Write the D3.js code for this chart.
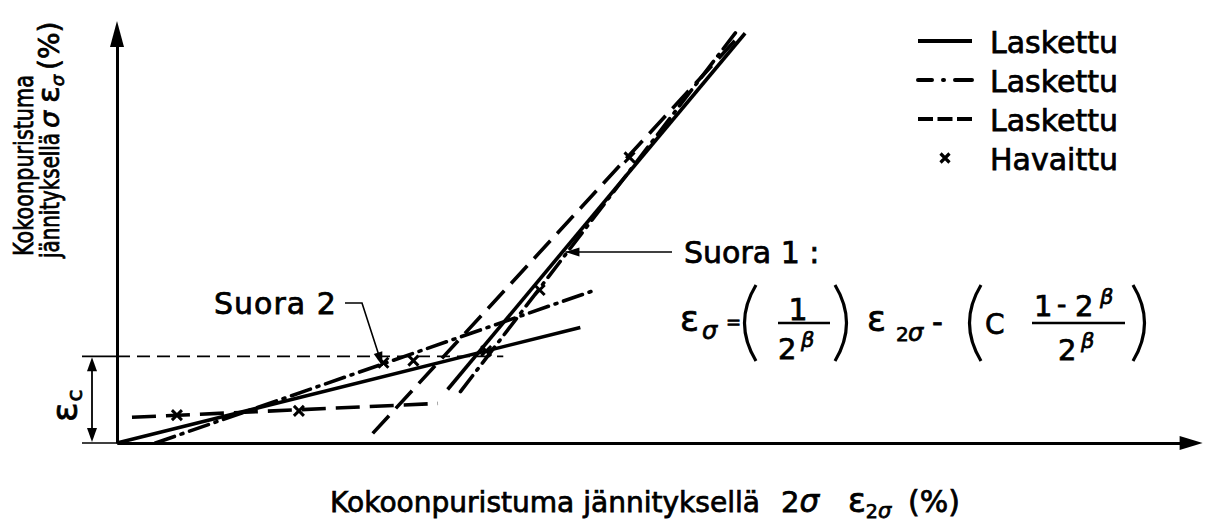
<!DOCTYPE html>
<html>
<head>
<meta charset="utf-8">
<script src="https://cdn.jsdelivr.net/npm/d3@7"></script>
<style>
  html, body { margin: 0; padding: 0; background: #fff; }
  svg { display: block; }
  text { font-family: "DejaVu Sans", sans-serif; fill: #000; stroke: #000; stroke-width: 0.75px; }
</style>
</head>
<body>
<svg id="chart" width="1211" height="531"></svg>
<script>
// Each calculated curve is made of two straight parts:
// "Suora 2" (the flat part) and "Suora 1" (the steep part).
const solidSuora2   = [[0.00, 0.00], [4.33, 1.08]];
const solidSuora1   = [[3.09, 0.50], [5.87, 3.83]];
const dashDotSuora2 = [[0.36, 0.00], [4.47, 1.43]];
const dashDotSuora1 = [[3.21, 0.48], [5.80, 3.86]];
const dashedSuora2  = [[0.14, 0.24], [3.00, 0.37]];
const dashedSuora1  = [[2.39, 0.09], [5.83, 3.82]];

// Observed points (Havaittu)
const observedX = [0.56, 1.70, 2.49, 2.77, 3.45, 3.95, 4.79];
const observedY = [0.26, 0.30, 0.75, 0.77, 0.86, 1.43, 2.67];

// Breakpoint strain level ε_c and the extent of its guide line
const epsC = 0.81;
const epsCGuideEnd = 3.61;

const legendLabels = ["Laskettu", "Laskettu", "Laskettu", "Havaittu"];
const legendStyles = ["solid", "dashdot", "dashed", "marker"];

const svg = d3.select("#chart");

const x = d3.scaleLinear().domain([0, 9.95]).range([117, 1181.65]);
const y = d3.scaleLinear().domain([0, 3.72]).range([443, 45]);

const dash = {
  solid: null,
  dashdot: "20,7,2,7",
  dashed: "24,10"
};

// ---- axes (no ticks, arrow-headed) ----
const gx = svg.append("g")
  .attr("transform", `translate(0,${y(0)})`)
  .call(d3.axisBottom(x).tickValues([]).tickSizeOuter(0));
const gy = svg.append("g")
  .attr("transform", `translate(${x(0)},0)`)
  .call(d3.axisLeft(y).tickValues([]).tickSizeOuter(0));
[gx, gy].forEach(g => g.select(".domain")
  .attr("stroke", "#000").attr("stroke-width", 3).attr("fill", "none"));

const xEnd = x.range()[1], yTop = y.range()[1];
svg.append("path")
  .attr("d", `M${xEnd - 2},${y(0) - 7}L${xEnd + 21},${y(0)}L${xEnd - 2},${y(0) + 7}Z`)
  .attr("fill", "#000");
svg.append("path")
  .attr("d", `M${x(0) - 7},${yTop + 2}L${x(0)},${yTop - 24}L${x(0) + 7},${yTop + 2}Z`)
  .attr("fill", "#000");

// ---- ε_c guide ----
svg.append("line")
  .attr("x1", x(0)).attr("x2", x(epsCGuideEnd))
  .attr("y1", y(epsC)).attr("y2", y(epsC))
  .attr("stroke", "#000").attr("stroke-width", 1.6).attr("stroke-dasharray", "13,7");
const dimX = x(0) - 25;
[[y(epsC)], [y(0)]].forEach(([yy]) => {
  svg.append("line").attr("x1", dimX - 10).attr("x2", x(0))
    .attr("y1", yy).attr("y2", yy).attr("stroke", "#000").attr("stroke-width", 1.6);
});
svg.append("line").attr("x1", dimX).attr("x2", dimX)
  .attr("y1", y(epsC) + 4).attr("y2", y(0) - 4)
  .attr("stroke", "#000").attr("stroke-width", 1.8);
svg.append("path")
  .attr("d", `M${dimX - 5},${y(epsC) + 15}L${dimX},${y(epsC) + 1}L${dimX + 5},${y(epsC) + 15}Z`)
  .attr("fill", "#000");
svg.append("path")
  .attr("d", `M${dimX - 5},${y(0) - 15}L${dimX},${y(0) - 1}L${dimX + 5},${y(0) - 15}Z`)
  .attr("fill", "#000");
const epsLabel = svg.append("text")
  .attr("transform", `translate(${dimX - 15},${y(0) - 21}) rotate(-90)`)
  .attr("font-size", 36);
epsLabel.append("tspan").text("ε");
epsLabel.append("tspan").attr("font-size", 22).attr("dy", 5).attr("dx", 1).text("c");

// ---- calculated lines ----
const line = d3.line().x(d => x(d[0])).y(d => y(d[1]));
const segments = [
  { pts: solidSuora2, style: "solid" },
  { pts: solidSuora1, style: "solid" },
  { pts: dashDotSuora2, style: "dashdot" },
  { pts: dashDotSuora1, style: "dashdot" },
  { pts: dashedSuora2, style: "dashed" },
  { pts: dashedSuora1, style: "dashed" }
];
svg.append("g").selectAll("path").data(segments).join("path")
  .attr("d", d => line(d.pts))
  .attr("fill", "none").attr("stroke", "#000")
  .attr("stroke-width", 3.6)
  .attr("stroke-linecap", d => d.style === "dashdot" ? "round" : "butt")
  .attr("stroke-dasharray", d => dash[d.style]);

// ---- observed points ----
const cross = (cx, cy, r) => `M${cx - r},${cy - r}L${cx + r},${cy + r}M${cx - r},${cy + r}L${cx + r},${cy - r}`;
svg.append("g").selectAll("path").data(d3.zip(observedX, observedY)).join("path")
  .attr("d", d => cross(x(d[0]), y(d[1]), 5))
  .attr("stroke", "#000").attr("stroke-width", 3).attr("fill", "none");

// ---- leader labels ----
const arrowHead = (tx, ty, angle) => {
  const a = angle, L = 14, w = 4.5;
  const bx = tx - L * Math.cos(a), by = ty - L * Math.sin(a);
  const px = -Math.sin(a) * w, py = Math.cos(a) * w;
  return `M${tx},${ty}L${bx + px},${by + py}L${bx - px},${by - py}Z`;
};

// Suora 1: points at the steep solid line
const s1y = 1.785;
const s1 = solidSuora1;
const s1x = s1[0][0] + (s1y - s1[0][1]) * (s1[1][0] - s1[0][0]) / (s1[1][1] - s1[0][1]);
const s1tip = [x(s1x) + 3, y(s1y)];
svg.append("line").attr("x1", s1tip[0]).attr("y1", s1tip[1]).attr("x2", 672).attr("y2", s1tip[1])
  .attr("stroke", "#000").attr("stroke-width", 1.6);
svg.append("path").attr("d", arrowHead(s1tip[0], s1tip[1], Math.PI)).attr("fill", "#000");
svg.append("text").attr("x", 684).attr("y", 263).attr("font-size", 30).text("Suora 1 :");

// Suora 2: points at the flat part near ε_c
const s2tip = [x(2.48), y(0.72)];
const s2path = [[345, 303], [362, 303], s2tip];
svg.append("path").attr("d", d3.line()(s2path))
  .attr("fill", "none").attr("stroke", "#000").attr("stroke-width", 1.6);
svg.append("path")
  .attr("d", arrowHead(s2tip[0], s2tip[1], Math.atan2(s2tip[1] - 303, s2tip[0] - 362)))
  .attr("fill", "#000");
svg.append("text").attr("x", 214).attr("y", 314).attr("font-size", 30)
  .attr("letter-spacing", 1).text("Suora 2");

// ---- formula ----
const f = svg.append("g");
const txt = (xx, yy, s, size, opts = {}) => {
  const t = f.append("text").attr("x", xx).attr("y", yy).attr("font-size", size).text(s);
  if (opts.italic) t.attr("font-style", "italic");
  if (opts.anchor) t.attr("text-anchor", opts.anchor);
  return t;
};
const paren = (x0, open) => {
  const top = 285, bot = 361, mid = (top + bot) / 2;
  const d = open
    ? `M${x0 + 12},${top}Q${x0 - 11},${mid} ${x0 + 12},${bot}`
    : `M${x0},${top}Q${x0 + 23},${mid} ${x0},${bot}`;
  f.append("path").attr("d", d).attr("fill", "none").attr("stroke", "#000").attr("stroke-width", 3.2);
};
const bar = (x1, x2) => f.append("line").attr("x1", x1).attr("x2", x2).attr("y1", 323).attr("y2", 323)
  .attr("stroke", "#000").attr("stroke-width", 2.6);

txt(680, 331, "ε", 35);
txt(702, 339, "σ", 24, { italic: true });
txt(726, 328, "=", 18);
paren(744, true);
txt(798, 320, "1", 30, { anchor: "middle" });
bar(778, 830);
txt(778, 359, "2", 29);
txt(801, 347, "β", 21, { italic: true });
paren(835, false);
txt(867, 331, "ε", 35);
txt(896, 341, "2", 20);
txt(908, 341, "σ", 24, { italic: true });
txt(932, 332, "-", 30);
paren(969, true);
txt(985, 334, "C", 28);
txt(1034, 316, "1", 29);
txt(1057, 313, "-", 26);
txt(1075, 316, "2", 29);
txt(1100, 304, "β", 21, { italic: true });
bar(1032, 1125);
txt(1058, 360, "2", 29);
txt(1081, 348, "β", 21, { italic: true });
paren(1133, false);

// ---- legend ----
const lg = svg.append("g");
const legendY = d3.range(legendLabels.length).map(i => 41 + i * 39);
legendLabels.forEach((label, i) => {
  const yy = legendY[i];
  const style = legendStyles[i];
  if (style === "marker") {
    lg.append("path").attr("d", cross(945, yy, 4.5))
      .attr("stroke", "#000").attr("stroke-width", 3.2).attr("fill", "none");
  } else {
    lg.append("line").attr("x1", 918).attr("x2", 972).attr("y1", yy).attr("y2", yy)
      .attr("stroke", "#000").attr("stroke-width", 4)
      .attr("stroke-linecap", style === "dashdot" ? "round" : "butt")
      .attr("stroke-dasharray", style === "dashdot" ? "14,11,1,11,20" : style === "dashed" ? "15,4.5" : null);
  }
  lg.append("text").attr("x", 990).attr("y", yy + 12).attr("font-size", 30).text(label);
});

// ---- axis titles ----
const xTitleY = 512;
svg.append("text").attr("x", 330).attr("y", xTitleY).attr("font-size", 28)
  .attr("textLength", 430).attr("lengthAdjust", "spacingAndGlyphs")
  .text("Kokoonpuristuma jännityksellä");
const xt2 = svg.append("text").attr("x", 781).attr("y", xTitleY).attr("font-size", 29);
xt2.append("tspan").text("2");
xt2.append("tspan").attr("font-style", "italic").attr("font-size", 31).text("σ");
const xt3 = svg.append("text").attr("x", 848).attr("y", xTitleY).attr("font-size", 33);
xt3.append("tspan").text("ε");
xt3.append("tspan").attr("font-size", 19).attr("dy", 6).text("2");
xt3.append("tspan").attr("font-size", 21).attr("font-style", "italic").text("σ");
svg.append("text").attr("x", 908).attr("y", xTitleY).attr("font-size", 30).text("(%)");

const yt = svg.append("g").attr("transform", "translate(33,256) rotate(-90)");
yt.append("text").attr("x", 0).attr("y", 0).attr("font-size", 27)
  .attr("textLength", 181).attr("lengthAdjust", "spacingAndGlyphs").text("Kokoonpuristuma");
const yt2 = yt.append("g").attr("transform", "translate(0,26)");
yt2.append("text").attr("x", -2).attr("y", 0).attr("font-size", 27)
  .attr("textLength", 125).attr("lengthAdjust", "spacingAndGlyphs").text("jännityksellä");
yt2.append("text").attr("x", 128).attr("y", 0).attr("font-size", 27)
  .attr("font-style", "italic").text("σ");
const ytEps = yt2.append("text").attr("x", 153).attr("y", 0).attr("font-size", 31);
ytEps.append("tspan").text("ε");
ytEps.append("tspan").attr("font-size", 18).attr("font-style", "italic").attr("dy", 5).text("σ");
yt2.append("text").attr("x", 186).attr("y", 0).attr("font-size", 28).text("(%)");
</script>
</body>
</html>
